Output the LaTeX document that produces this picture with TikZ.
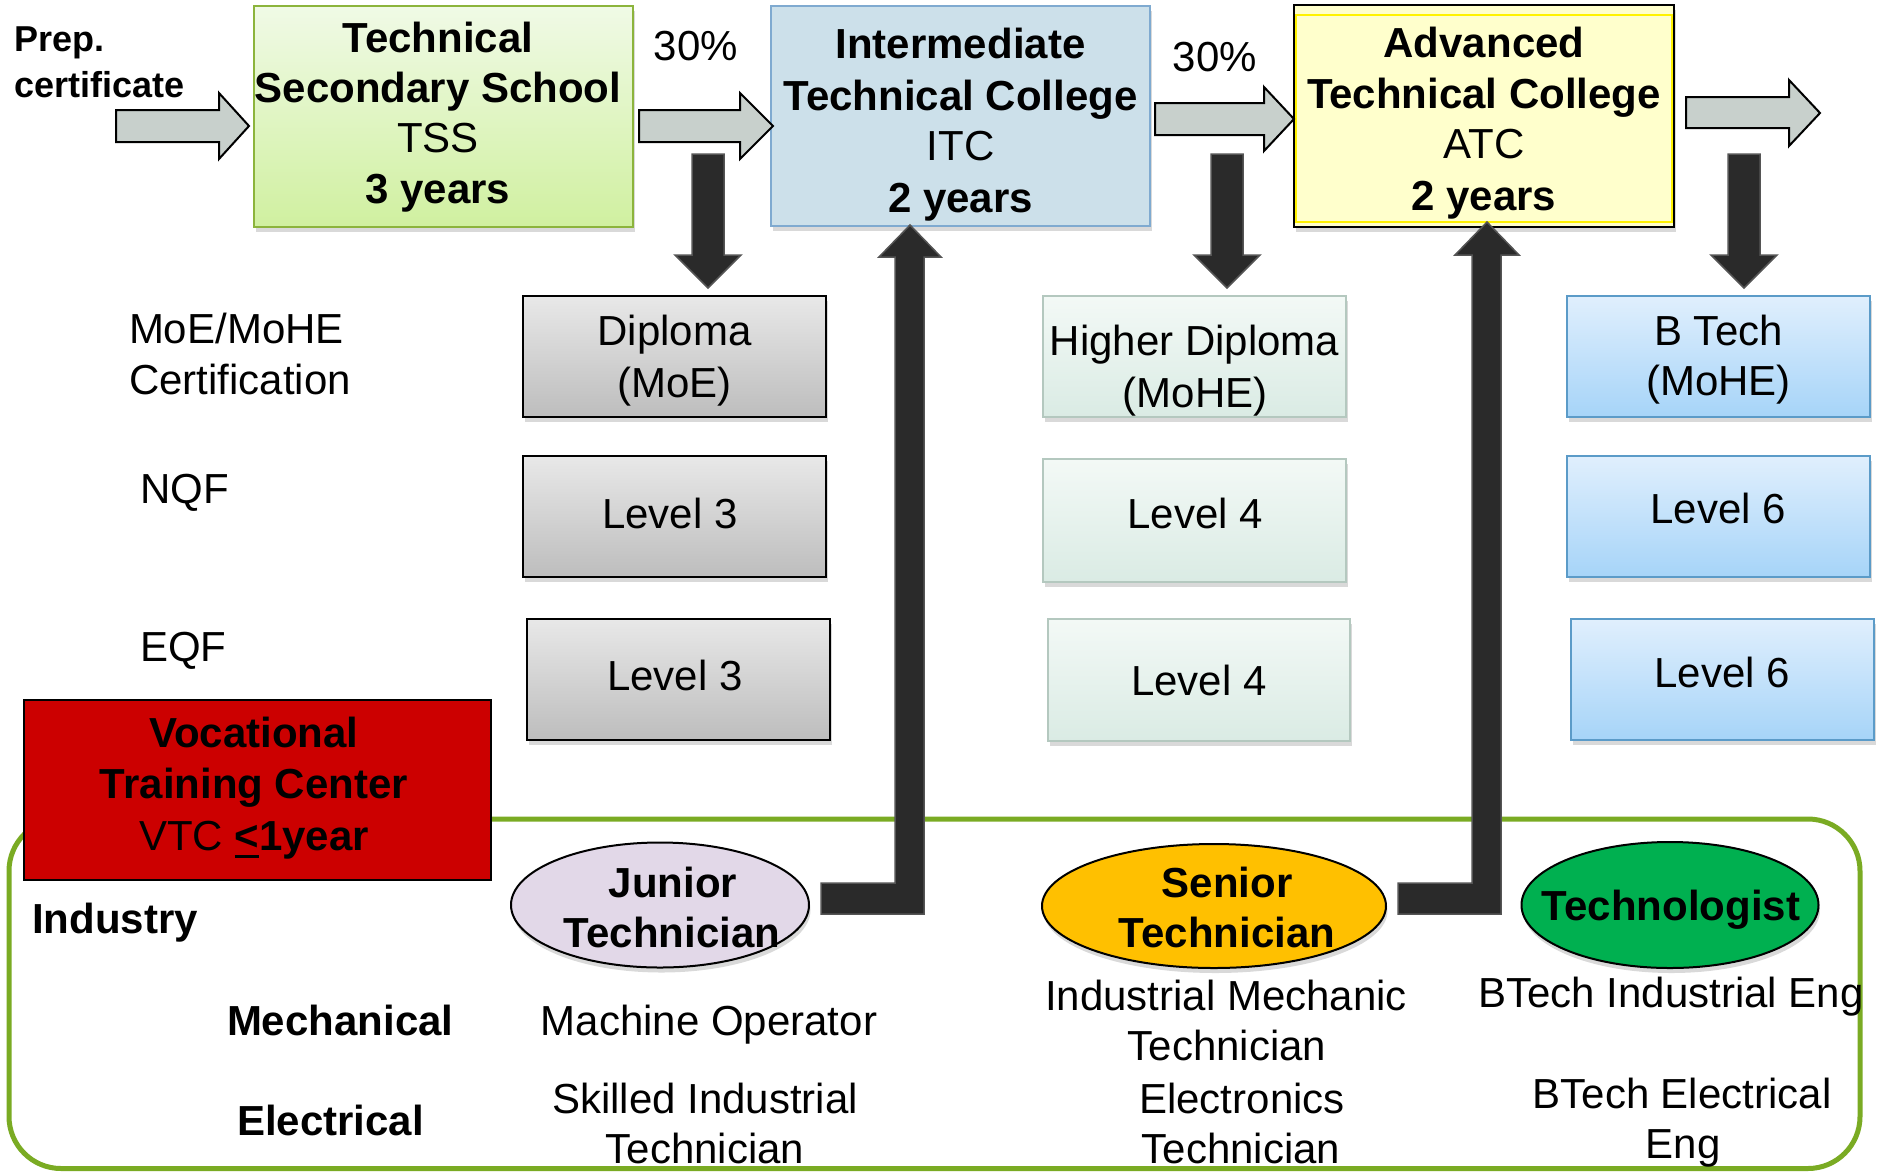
\documentclass[tikz,border=0pt]{standalone}
\usepackage{fontspec}
\setmainfont{Liberation Sans}
\usetikzlibrary{shapes.geometric,shadows}
\definecolor{arrgray}{HTML}{C8D0CC}
\definecolor{darkarr}{HTML}{2A2A2A}
\definecolor{darkedge}{HTML}{555555}
\definecolor{tsstop}{HTML}{F0FAE6}
\definecolor{tssbot}{HTML}{D0F0A0}
\definecolor{tssedge}{HTML}{8CB43C}
\definecolor{itcfill}{HTML}{CCE0EA}
\definecolor{itcedge}{HTML}{7FAAD0}
\definecolor{atcfill}{HTML}{FFFFCC}
\definecolor{grtop}{HTML}{E8E8E8}
\definecolor{grbot}{HTML}{BDBDBD}
\definecolor{mintop}{HTML}{F3F9F6}
\definecolor{minbot}{HTML}{DAEBE4}
\definecolor{minedge}{HTML}{B4C8BF}
\definecolor{bltop}{HTML}{E0EFFD}
\definecolor{blbot}{HTML}{A6D4F8}
\definecolor{bledge}{HTML}{5B9BC8}
\definecolor{vtcred}{HTML}{CC0000}
\definecolor{frame}{HTML}{7AAB23}
\definecolor{jtcol}{HTML}{E2D8E8}
\definecolor{stcol}{HTML}{FFC000}
\definecolor{tgcol}{HTML}{00B050}
\begin{document}
\begin{tikzpicture}[x=1pt,y=-1pt,
 every node/.style={inner sep=0pt,outer sep=0pt},
 tx/.style={font=\fontsize{42}{50}\selectfont,anchor=base},
 tb/.style={font=\fontsize{42}{50}\selectfont\bfseries,anchor=base},
 txl/.style={tx,anchor=base west},
 tbl/.style={tb,anchor=base west},
 shad/.style={drop shadow={shadow xshift=1.5pt,shadow yshift=-5pt,opacity=0.3}},
 box/.style={line width=2pt,anchor=north west,shad},
 greybox/.style={box,draw=black,top color=grtop,bottom color=grbot},
 mintbox/.style={box,draw=minedge,top color=mintop,bottom color=minbot},
 bluebox/.style={box,draw=bledge,top color=bltop,bottom color=blbot},
 garrow/.style={draw=black,line width=2pt,fill=arrgray,line join=miter},
 darrow/.style={draw=darkedge,line width=1.5pt,fill=darkarr},
 ell/.style={ellipse,draw=black,line width=2pt,shad}
]
\useasboundingbox (0,0) rectangle (1877,1171);
% industry frame
\draw[frame,line width=5pt,rounded corners=52pt] (9,819) rectangle (1860,1168.5);
% top boxes
\node[box,draw=tssedge,top color=tsstop,bottom color=tssbot,minimum width=379pt,minimum height=221pt] (tss) at (254,6) {};
\node[box,draw=itcedge,fill=itcfill,minimum width=379pt,minimum height=220pt] (itc) at (771,6) {};
\node[box,draw=black,fill=atcfill,minimum width=380pt,minimum height=222pt] (atc) at (1294,5) {};
\draw[yellow,line width=2pt] (1296,15) rectangle (1672,222);
% certificate / level boxes
\node[greybox,minimum width=303pt,minimum height=121pt] (dip) at (523,296) {};
\node[greybox,minimum width=303pt,minimum height=121pt] (nq3) at (523,456) {};
\node[greybox,minimum width=303pt,minimum height=121pt] (eq3) at (527,619) {};
\node[mintbox,minimum width=303pt,minimum height=121pt] (hd) at (1043,296) {};
\node[mintbox,minimum width=303pt,minimum height=123pt] (nq4) at (1043,459) {};
\node[mintbox,minimum width=302pt,minimum height=122pt] (eq4) at (1048,619) {};
\node[bluebox,minimum width=303pt,minimum height=121pt] (bt) at (1567,296) {};
\node[bluebox,minimum width=303pt,minimum height=121pt] (nq6) at (1567,456) {};
\node[bluebox,minimum width=303pt,minimum height=121pt] (eq6) at (1571,619) {};
% VTC
\node[draw=black,line width=2pt,fill=vtcred,anchor=north west,minimum width=467pt,minimum height=180pt] (vtc) at (24,700) {};
% grey flow arrows
\draw[garrow] (116,110) -- (219,110) -- (219,93) -- (249,126) -- (219,159) -- (219,142) -- (116,142) -- cycle;
\draw[garrow] (639,110) -- (740,110) -- (740,93) -- (773,126) -- (740,159) -- (740,142) -- (639,142) -- cycle;
\draw[garrow] (1155,103) -- (1264,103) -- (1264,87) -- (1294,119) -- (1264,151) -- (1264,135) -- (1155,135) -- cycle;
\draw[garrow] (1686,97) -- (1789,97) -- (1789,80) -- (1820,113) -- (1789,146) -- (1789,128) -- (1686,128) -- cycle;
% dark down arrows
\draw[darrow] (692,154) -- (724,154) -- (724,255) -- (741,255) -- (708,288) -- (675,255) -- (692,255) -- cycle;
\draw[darrow] (1211,154) -- (1243,154) -- (1243,255) -- (1260,255) -- (1227,288) -- (1194,255) -- (1211,255) -- cycle;
\draw[darrow] (1728,154) -- (1760,154) -- (1760,255) -- (1777,255) -- (1744,288) -- (1711,255) -- (1728,255) -- cycle;
% L-shaped up arrows
\draw[darrow] (821,914) -- (924,914) -- (924,257) -- (941,257) -- (910,225) -- (879,257) -- (895,257) -- (895,883) -- (821,883) -- cycle;
\draw[darrow] (1398,914) -- (1501,914) -- (1501,255) -- (1519,255) -- (1487,222) -- (1455,255) -- (1472,255) -- (1472,883) -- (1398,883) -- cycle;
% ellipses
\node[ell,fill=jtcol,minimum width=298pt,minimum height=125pt] (jt) at (660,905) {};
\node[ell,fill=stcol,minimum width=344pt,minimum height=124pt] (st) at (1214,906) {};
\node[ell,fill=tgcol,minimum width=297pt,minimum height=126pt] (tg) at (1670,905) {};
% texts top
\node[tbl,font=\fontsize{36}{40}\selectfont\bfseries] (prep1) at (14,51) {Prep.};
\node[tbl,font=\fontsize{36}{40}\selectfont\bfseries] (prep2) at (14,97) {certificate};
\node[tb] (t1) at (438,52) {Technical};
\node[tb] (t2) at (438,102) {Secondary School};
\node[tx] (t3) at (438,152) {TSS};
\node[tb] (t4) at (438,203) {3 years};
\node[tx] (p1) at (696,60) {30\%};
\node[tx] (p2) at (1215,71) {30\%};
\node[tb] (i1) at (960.5,58) {Intermediate};
\node[tb] (i2) at (960.5,110) {Technical College};
\node[tx] (i3) at (960.5,160) {ITC};
\node[tb] (i4) at (960.5,212) {2 years};
\node[tb] (a1) at (1484,57) {Advanced};
\node[tb] (a2) at (1484,108) {Technical College};
\node[tx] (a3) at (1484,158) {ATC};
\node[tb] (a4) at (1484,210) {2 years};
% left labels
\node[txl] (l1) at (129,343) {MoE/MoHE};
\node[txl] (l2) at (129,394) {Certification};
\node[txl] (l3) at (140,503) {NQF};
\node[txl] (l4) at (140,661) {EQF};
% box texts
\node[tx] (dip1) at (674.5,345) {Diploma};
\node[tx] (dip2) at (674.5,397) {(MoE)};
\node[tx] (nq3t) at (670,528) {Level 3};
\node[tx] (eq3t) at (675,690) {Level 3};
\node[tx] (hd1) at (1194.5,355) {Higher Diploma};
\node[tx] (hd2) at (1195,407) {(MoHE)};
\node[tx] (nq4t) at (1195,528) {Level 4};
\node[tx] (eq4t) at (1199,695) {Level 4};
\node[tx] (bt1) at (1718.5,345) {B Tech};
\node[tx] (bt2) at (1718.5,395) {(MoHE)};
\node[tx] (nq6t) at (1718,523) {Level 6};
\node[tx] (eq6t) at (1722,687) {Level 6};
% VTC text
\node[tb] (v1) at (254,747) {Vocational};
\node[tb] (v2) at (254,798) {Training Center};
\node[tx] (v3) at (254,850) {VTC {\bfseries\makebox[0pt][l]{\rule[-8pt]{24pt}{3.5pt}}<1year}};
% industry texts
\node[tbl] (ind) at (32,933) {Industry};
\node[tbl] (mech) at (227,1035) {Mechanical};
\node[tbl] (elec) at (237,1135) {Electrical};
\node[tb] (j1) at (673,897) {Junior};
\node[tb] (j2) at (672,947) {Technician};
\node[tb] (s1) at (1227,897) {Senior};
\node[tb] (s2) at (1227,947) {Technician};
\node[tb] (tg1) at (1671,920) {Technologist};
\node[tx] (m1) at (709,1035) {Machine Operator};
\node[tx] (m2) at (705,1113) {Skilled Industrial};
\node[tx] (m3) at (705,1163) {Technician};
\node[tx] (s3) at (1226,1010) {Industrial Mechanic};
\node[tx] (s4) at (1227,1060) {Technician};
\node[tx] (s5) at (1242,1113) {Electronics};
\node[tx] (s6) at (1241,1163) {Technician};
\node[tx] (b1) at (1671,1007) {BTech Industrial Eng};
\node[tx] (b2) at (1682,1108) {BTech Electrical};
\node[tx] (b3) at (1683,1158) {Eng};
\end{tikzpicture}
\end{document}
